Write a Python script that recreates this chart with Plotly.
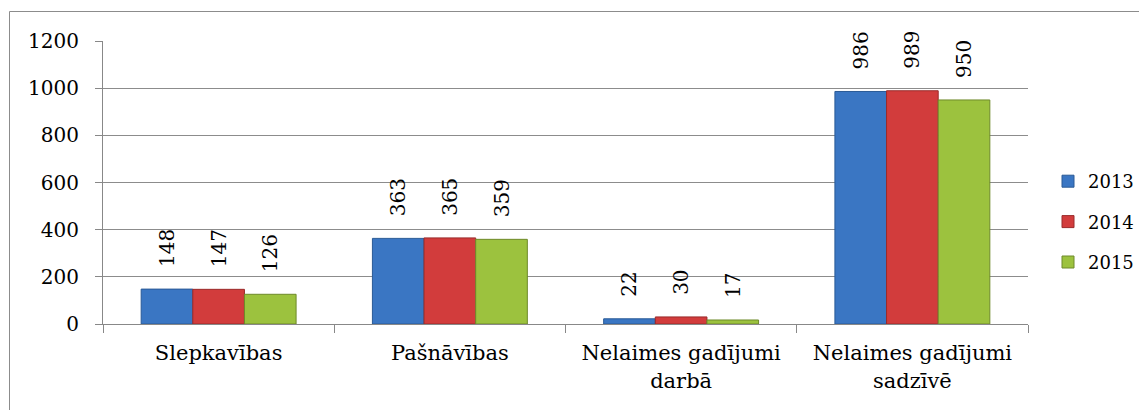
import plotly.graph_objects as go

categories = ["Slepkavības", "Pašnāvības", "Nelaimes gadījumi<br>darbā", "Nelaimes gadījumi<br>sadzīvē"]
years = ["2013", "2014", "2015"]
values_2013 = [148, 363, 22, 986]
values_2014 = [147, 365, 30, 989]
values_2015 = [126, 359, 17, 950]
series = [values_2013, values_2014, values_2015]
colors = ["#3A76C3", "#D23C3C", "#9CC23E"]
edges = ["#2A5A96", "#9A2A2A", "#6E8A2A"]
y_ticks = [0, 200, 400, 600, 800, 1000, 1200]

FONT = "DejaVu Serif"
PAD = "\u00a0\u00a0\u00a0"

fig = go.Figure()
for name, vals, c, e in zip(years, series, colors, edges):
    fig.add_trace(go.Bar(
        x=categories, y=vals, name=name, legendgroup=name,
        marker=dict(color=c, line=dict(color=e, width=1)),
        text=[PAD + str(v) for v in vals], textposition="outside",
        textangle=-90, textfont=dict(family=FONT, size=20, color="black"),
        cliponaxis=False, constraintext="none",
    ))

OFF = 8  # page body margin
W, H = 1147 - OFF, 410 - OFF
ml, mt = 103 - OFF, 41 - OFF
mr = W - (1028 - OFF)
mb = H - (324 - OFF)
pw, ph = W - ml - mr, H - mt - mb

def px_x(p):
    return (p - OFF - ml) / pw

def px_y(p):
    return (H - mb - (p - OFF)) / ph

fig.update_layout(
    width=W, height=H,
    margin=dict(l=ml, r=mr, t=mt, b=mb, autoexpand=False),
    paper_bgcolor="white", plot_bgcolor="white",
    barmode="group", bargap=0.33, bargroupgap=0,
    font=dict(family=FONT, color="black"),
    showlegend=True,
    legend=dict(x=px_x(1048), y=px_y(163), xanchor="left", yanchor="top",
                font=dict(family=FONT, size=18, color="black"),
                tracegroupgap=14, itemwidth=30, bgcolor="rgba(0,0,0,0)"),
    xaxis=dict(showline=True, linecolor="#888888", linewidth=1,
               ticks="outside", tickson="boundaries", ticklen=8, tickcolor="#888888",
               tickfont=dict(family=FONT, size=21, color="black"),
               ticklabelstandoff=10,
               showgrid=False, fixedrange=True),
    yaxis=dict(range=[0, 1200], tickvals=y_ticks, showline=True, linecolor="#888888", linewidth=1,
               ticks="outside", ticklen=7, tickcolor="#888888",
               showgrid=True, gridcolor="#8C8C8C", gridwidth=1, zeroline=False,
               ticklabelstandoff=12,
               tickfont=dict(family=FONT, size=20, color="black"), fixedrange=True),
    shapes=[dict(type="rect", xref="paper", yref="paper",
                 x0=px_x(9.5), x1=px_x(1160), y0=px_y(420), y1=px_y(11.5),
                 line=dict(color="#8C8C8C", width=1), fillcolor="rgba(0,0,0,0)", layer="below")],
)

fig.write_html("out.html")
